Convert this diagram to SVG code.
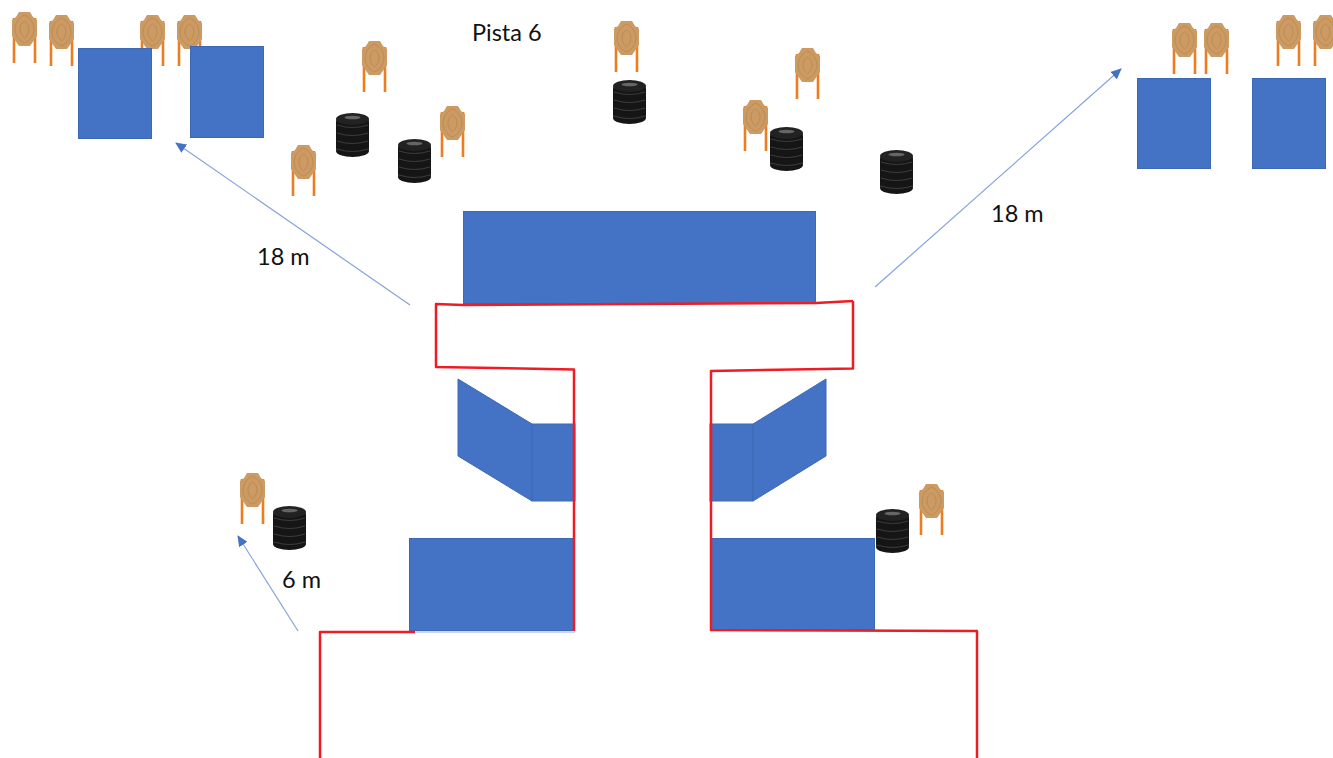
<svg xmlns="http://www.w3.org/2000/svg" width="1333" height="758" viewBox="0 0 1333 758">
<style>
.b{fill:#4472c4;stroke:#3d68b4;stroke-width:1}
.r{fill:none;stroke:#f01c24;stroke-width:2.5;stroke-linejoin:round}
.a{fill:none;stroke:#84a3da;stroke-width:1.2;marker-end:url(#ah)}
.t{font-family:Lato,"Liberation Sans",sans-serif;font-size:23.5px;fill:#111}
.lg{stroke:#ed7d1f;stroke-width:2.6;fill:none}
.rg{fill:none;stroke:#bd8a55;stroke-width:1}
</style>
<defs>
<marker id="ah" markerWidth="12" markerHeight="10" refX="10" refY="5" orient="auto" markerUnits="userSpaceOnUse"><path d="M0,0L11,5L0,10Z" fill="#4472c4"/></marker>
<g id="tg">
<path class="lg" d="M2,6V51M23,6V51"/>
<path d="M7,0H18L21,5L25,8V24L18,34H7L0,24V8L4,5Z" fill="#cc9a63"/>
<path class="rg" d="M12.500,3C6,6 3,12 3,18C4,25 8,29 12.500,31C17,29 21,25 22,18C22,12 19,6 12.500,3Z"/>
<path class="rg" d="M12.500,9C9,11 8,14 8,18C9,22 10,24 12.500,26C15,24 16,22 17,18C17,14 16,11 12.500,9Z"/>
</g>
<g id="ti">
<rect x="0" y="5" width="33" height="34" rx="4" fill="#151515"/>
<ellipse cx="16.500" cy="38" rx="16.500" ry="6" fill="#151515"/>
<ellipse cx="16.500" cy="6" rx="16.500" ry="6" fill="#222"/>
<ellipse cx="16.500" cy="4.500" rx="8" ry="1.800" fill="#666"/>
<path d="M1,12Q16.500,17 32,12M1,20Q16.500,25 32,20M1,28Q16.500,33 32,28M1,36Q16.500,41 32,36" fill="none" stroke="#3d3d3d" stroke-width="1"/>
</g>
</defs>
<rect width="1333" height="758" fill="#fff"/>
<g id="targets">
<use href="#tg" x="12" y="12"/><use href="#tg" x="49" y="15"/><use href="#tg" x="140" y="15"/><use href="#tg" x="177" y="15"/>
<use href="#tg" x="362" y="41"/><use href="#tg" x="440" y="106"/><use href="#tg" x="291" y="145"/><use href="#tg" x="614" y="21"/>
<use href="#tg" x="795" y="48"/><use href="#tg" x="743" y="100"/><use href="#tg" x="1172" y="23"/><use href="#tg" x="1204" y="23"/>
<use href="#tg" x="1276" y="15"/><use href="#tg" x="1313" y="15"/><use href="#tg" x="240" y="473"/><use href="#tg" x="919" y="484"/>
</g>
<g id="tires">
<use href="#ti" x="336" y="113"/><use href="#ti" x="398" y="139"/><use href="#ti" x="613" y="80"/><use href="#ti" x="770" y="127"/>
<use href="#ti" x="880" y="150"/><use href="#ti" x="273" y="506"/>
</g>
<g id="blocks">
<rect class="b" x="78.500" y="48.500" width="73" height="90"/>
<rect class="b" x="190.500" y="46.500" width="73" height="91"/>
<rect class="b" x="1137.500" y="78.500" width="73" height="90"/>
<rect class="b" x="1252.500" y="78.500" width="73" height="90"/>
<rect class="b" x="463.500" y="211.500" width="352" height="92"/>
<rect class="b" x="409.500" y="538.500" width="165" height="92"/>
<rect class="b" x="710.500" y="538.500" width="164" height="91"/>
<rect class="b" x="532" y="424" width="43" height="77"/>
<rect class="b" x="710" y="424" width="43" height="77"/>
<path class="b" d="M458,379L532,424V501L458,456Z"/>
<path class="b" d="M826,379L753,424V501L826,456Z"/>
</g>
<use id="tire-front" href="#ti" x="876" y="509"/>
<g id="connectors">
<path class="a" d="M410,305L176,143"/>
<path class="a" d="M875,287L1121,69"/>
<path class="a" d="M298,631L238,536"/>
<path d="M415,632H575" fill="none" stroke="#8fb0e0" stroke-width="1"/>
<path class="r" d="M853,301L816,303L463,305L436,304V367L574,369.500V631"/>
<path class="r" d="M853,301V368.500L711,371V630L977,631V758"/>
<path class="r" d="M320,758V632H415"/>
</g>
<g id="labels">
<text class="t" x="472" y="41">Pista 6</text>
<text class="t" x="257" y="265">18 m</text>
<text class="t" x="991" y="222">18 m</text>
<text class="t" x="282" y="588">6 m</text>
</g>
</svg>
